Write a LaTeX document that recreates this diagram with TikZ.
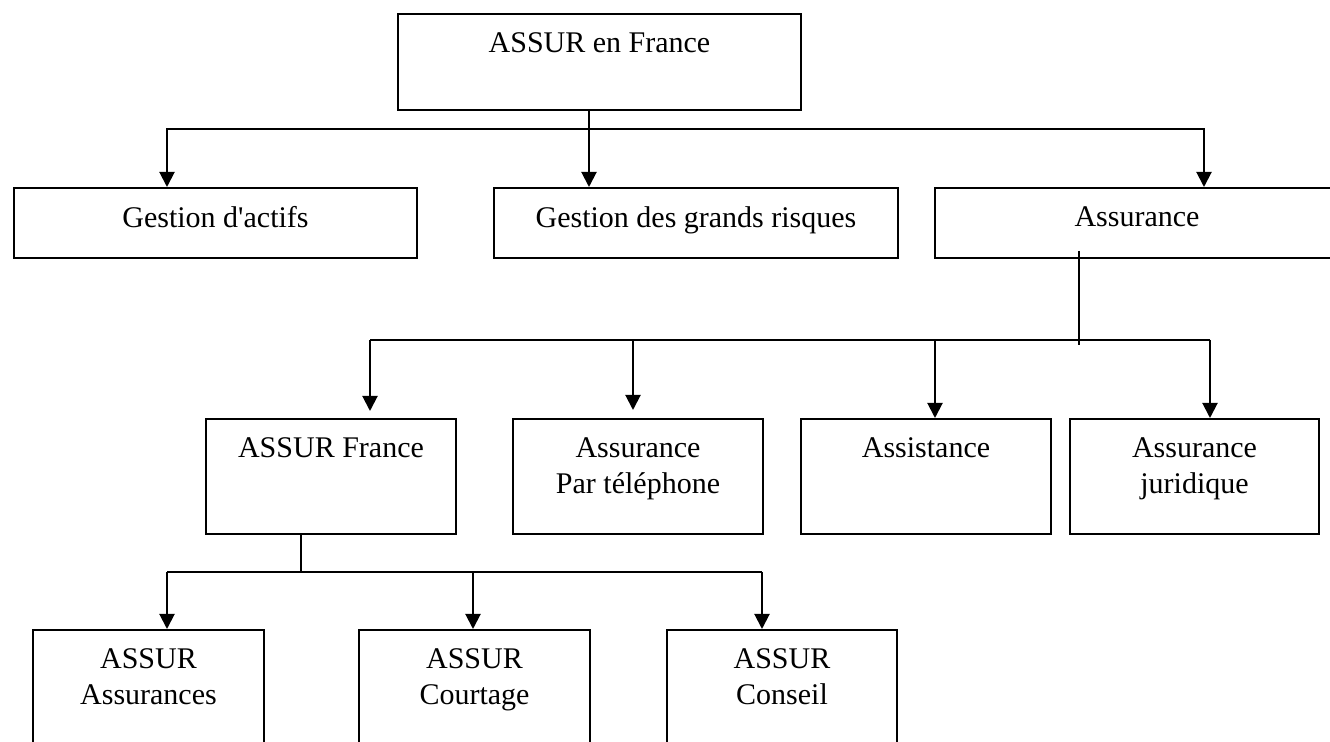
\documentclass[tikz,border=0pt]{standalone}
\usepackage{fontspec}
\setmainfont{Liberation Serif}[Ligatures=TeXOff]
\usetikzlibrary{arrows.meta,positioning}
\tikzset{
  box/.style 2 args={draw, line width=1pt, inner sep=0pt, anchor=north west,
    minimum width=#1*0.5pt, minimum height=#2*0.5pt},
  txt/.style={anchor=north, align=center, inner sep=0pt,
    font=\fontsize{15pt}{18.3pt}\selectfont},
  link/.style={line width=1pt},
  arr/.style={line width=1pt, -{Triangle[length=7.5pt,width=7.5pt]}},
}

\begin{document}
\begin{tikzpicture}[x=0.5pt,y=-0.5pt]
\useasboundingbox (0,0) rectangle (1330,742);
\clip (0,0) rectangle (1330,742);
\node[box={403}{96}] (france) at (397,13) {};
\node[txt,below=9.5pt of france.north] (france-t) {ASSUR en France};
\node[box={403}{70}] (actifs) at (13,187) {};
\node[txt,below=9.5pt of actifs.north] (actifs-t) {Gestion d'actifs};
\node[box={404}{70}] (risques) at (493,187) {};
\node[txt,below=9.5pt of risques.north] (risques-t) {Gestion des grands risques};
\node[box={404}{70}] (assur) at (934,187) {};
\node[txt,below=9.5pt of assur.north] (assur-t) {Assurance};
\node[box={250}{115}] (af) at (205,418) {};
\node[txt,below=9.5pt of af.north] (af-t) {ASSUR France};
\node[box={250}{115}] (tel) at (512,418) {};
\node[txt,below=9.5pt of tel.north] (tel-t) {Assurance\\Par téléphone};
\node[box={250}{115}] (assist) at (800,418) {};
\node[txt,below=9.5pt of assist.north] (assist-t) {Assistance};
\node[box={249}{115}] (jur) at (1069,418) {};
\node[txt,below=9.5pt of jur.north] (jur-t) {Assurance\\juridique};
\node[box={231}{150}] (aa) at (32,629) {};
\node[txt,below=9.5pt of aa.north] (aa-t) {ASSUR\\Assurances};
\node[box={231}{150}] (court) at (358,629) {};
\node[txt,below=9.5pt of court.north] (court-t) {ASSUR\\Courtage};
\node[box={230}{150}] (conseil) at (666,629) {};
\node[txt,below=9.5pt of conseil.north] (conseil-t) {ASSUR\\Conseil};
\coordinate (k1) at (167,129);
\coordinate (k2) at (589,129);
\coordinate (k3) at (1204,129);
\draw[link] (france.south -| k2) -- (k2);
\draw[arr] (k2) -- (risques.north -| k2);
\draw[arr] (k2) -- (k1) -- (actifs.north -| k1);
\draw[arr] (k2) -- (k3) -- (assur.north -| k3);
\coordinate (m1) at (370,340);
\coordinate (m2) at (633,340);
\coordinate (m3) at (935,340);
\coordinate (m4) at (1210,340);
\coordinate (m0) at (1079,340);
\draw[link] ([yshift=4pt]assur.south -| m0) -- ([yshift=-2.5pt]m0);
\draw[link] (m1) -- (m4);
\draw[arr] (m1) -- ([yshift=3.5pt]af.north -| m1);
\draw[arr] (m2) -- ([yshift=4pt]tel.north -| m2);
\draw[arr] (m3) -- (assist.north -| m3);
\draw[arr] (m4) -- (jur.north -| m4);
\coordinate (n0) at (301,572);
\coordinate (n1) at (167,572);
\coordinate (n2) at (473,572);
\coordinate (n3) at (762,572);
\draw[link] (af.south -| n0) -- (n0);
\draw[link] (n1) -- (n3);
\draw[arr] (n1) -- (aa.north -| n1);
\draw[arr] (n2) -- (court.north -| n2);
\draw[arr] (n3) -- (conseil.north -| n3);
\end{tikzpicture}
\end{document}
